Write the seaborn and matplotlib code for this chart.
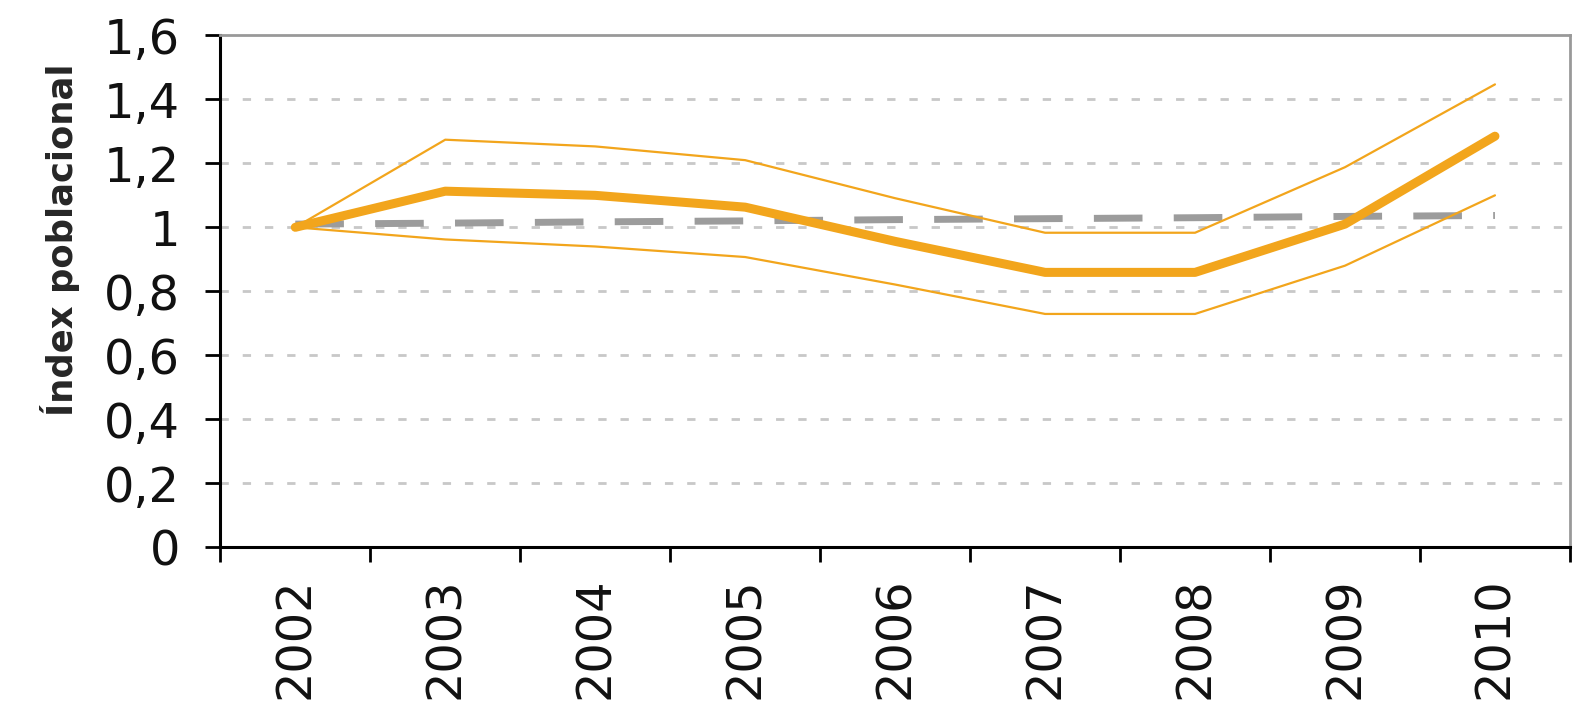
import matplotlib
matplotlib.use("Agg")
import matplotlib.pyplot as plt
import seaborn as sns
import pandas as pd
import numpy as np
from matplotlib.ticker import FixedLocator, FixedFormatter

years = ["2002", "2003", "2004", "2005", "2006", "2007", "2008", "2009", "2010"]
index_main = [1.00, 1.113, 1.10, 1.063, 0.956, 0.859, 0.859, 1.01, 1.285]
index_upper = [1.00, 1.274, 1.253, 1.21, 1.091, 0.983, 0.983, 1.188, 1.447]
index_lower = [1.00, 0.962, 0.94, 0.907, 0.821, 0.729, 0.729, 0.88, 1.10]
trend = [1.01, 1.013, 1.017, 1.020, 1.024, 1.027, 1.030, 1.034, 1.037]
y_ticks = [0, 0.2, 0.4, 0.6, 0.8, 1.0, 1.2, 1.4, 1.6]
y_labels = ["0", "0,2", "0,4", "0,6", "0,8", "1", "1,2", "1,4", "1,6"]

sns.set_theme(style="white")
plt.rcParams['font.family'] = ['DejaVu Sans']

df = pd.DataFrame({"year": years, "main": index_main, "upper": index_upper,
                   "lower": index_lower, "trend": trend})
df["pos"] = np.arange(len(years))

fig = plt.figure(figsize=(15.85, 7.21), dpi=100)
ax = fig.add_axes([0.139, 0.2413, 0.8515, 0.7095])

orange = "#F2A51C"
sns.lineplot(data=df, x="pos", y="trend", ax=ax, color="#9c9c9c", linewidth=5,
             dashes=False, linestyle=(0, (7, 4.5)), zorder=2)
sns.lineplot(data=df, x="pos", y="upper", ax=ax, color=orange, linewidth=1.6, zorder=3)
sns.lineplot(data=df, x="pos", y="lower", ax=ax, color=orange, linewidth=1.6, zorder=3)
sns.lineplot(data=df, x="pos", y="main", ax=ax, color=orange, linewidth=6.5, zorder=4)

ax.set_xlim(-0.5, len(years) - 0.5)
ax.set_ylim(0, 1.6)

# y axis
ax.set_yticks(y_ticks)
ax.set_yticklabels(y_labels, fontsize=34.5, color="#111111")
for y in y_ticks[1:-1]:
    ax.axhline(y, color="#c8c8c8", linewidth=2, linestyle=(0, (3, 5)), zorder=1)

# x axis: boundary ticks as major, labels as minor
ax.xaxis.set_major_locator(FixedLocator(np.arange(-0.5, len(years), 1.0)))
ax.xaxis.set_major_formatter(FixedFormatter([""] * (len(years) + 1)))
ax.xaxis.set_minor_locator(FixedLocator(df["pos"].values))
ax.xaxis.set_minor_formatter(FixedFormatter(years))
ax.tick_params(axis="x", which="minor", length=0, labelsize=34.5, labelrotation=90,
               pad=22, labelcolor="#111111")
ax.tick_params(axis="x", which="major", length=11, width=2, color="black", direction="out")
ax.tick_params(axis="y", which="major", length=11, width=2, color="black", direction="out",
               pad=18)
ax.tick_params(left=True, bottom=True)

ax.set_xlabel("")
ax.set_ylabel("Índex poblacional", fontsize=25.5, fontweight="bold")
ax.yaxis.set_label_coords(-0.104, 0.60)

for s in ["left", "bottom"]:
    ax.spines[s].set_color("black")
    ax.spines[s].set_linewidth(2.2)
for s in ["top", "right"]:
    ax.spines[s].set_color("#999999")
    ax.spines[s].set_linewidth(2)

fig.savefig("out.png", dpi=100)
